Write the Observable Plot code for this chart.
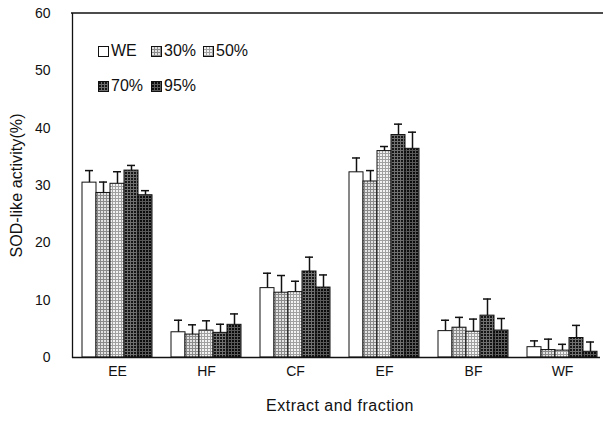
<!DOCTYPE html>
<html>
<head>
<meta charset="utf-8">
<script src="https://cdn.jsdelivr.net/npm/d3@7"></script>
<script src="https://cdn.jsdelivr.net/npm/@observablehq/plot@0.6"></script>
<style>
  html, body { margin: 0; padding: 0; background: white; }
  #wrap { position: relative; width: 603px; height: 423px; font-family: "Liberation Sans", Arial, sans-serif; }
  #wrap svg { display: block; }
  .leg { position: absolute; display: flex; align-items: center; font-size: 16px; line-height: 16px; color: #111; }
  .leg svg { margin-right: 2px; }
</style>
</head>
<body>
<div id="wrap"></div>
<script>
// ---- data ----
const fractions = ["EE", "HF", "CF", "EF", "BF", "WF"];
const series = ["WE", "30%", "50%", "70%", "95%"];
const yTicks = [0, 10, 20, 30, 40, 50, 60];

const valWE  = [30.5, 4.4, 12.1, 32.3, 4.6, 1.8];
const val30  = [28.7, 4.0, 11.3, 30.7, 5.2, 1.3];
const val50  = [30.3, 4.7, 11.4, 36.0, 4.5, 1.2];
const val70  = [32.6, 4.3, 15.0, 38.8, 7.3, 3.4];
const val95  = [28.3, 5.7, 12.2, 36.4, 4.7, 1.0];

const errWE  = [2.1, 2.1, 2.6, 2.5, 1.9, 1.1];
const err30  = [1.9, 1.7, 3.0, 1.9, 1.8, 1.9];
const err50  = [2.1, 1.7, 1.9, 0.8, 2.2, 1.1];
const err70  = [0.9, 1.5, 2.5, 1.9, 2.9, 2.2];
const err95  = [0.8, 1.9, 2.2, 2.9, 2.1, 1.7];

const values = [valWE, val30, val50, val70, val95];
const errors = [errWE, err30, err50, err70, err95];

const data = fractions.flatMap((f, i) =>
  series.map((s, j) => ({ fraction: f, series: s, value: values[j][i], err: errors[j][i] }))
);

const yLabel = "SOD-like activity(%)";
const xLabel = "Extract and fraction";

// ---- pattern fills (halftone look) ----
const patternIds = ["pWE", "p30", "p50", "p70", "p95"];
const patternUrls = patternIds.map(id => `url(#${id})`);

const chart = Plot.plot({
  width: 603,
  height: 423,
  marginLeft: 72,
  marginRight: 3,
  marginTop: 13,
  marginBottom: 66,
  style: { fontFamily: "'Liberation Sans', Arial, sans-serif", fontSize: "14px", background: "white", color: "#111" },
  fx: { domain: fractions, paddingInner: 0.215, paddingOuter: 0.067, align: 0.75 },
  x: { domain: series, padding: 0, axis: null },
  y: { domain: [0, 60] },
  color: { domain: series, range: patternUrls },
  marks: [
    Plot.axisY({ ticks: yTicks, tickSize: 0, tickPadding: 32, label: yLabel, labelAnchor: "center", labelArrow: "none", labelOffset: 72 }),
    Plot.axisFx({ anchor: "bottom", tickSize: 0, tickPadding: 9, label: xLabel, labelAnchor: "center", labelArrow: "none", labelOffset: 53 }),
    Plot.barY(data, { fx: "fraction", x: "series", y: "value", fill: "series", stroke: "#111", strokeWidth: 1 }),
    Plot.ruleX(data, { fx: "fraction", x: "series", y1: "value", y2: d => d.value + d.err, stroke: "#111", strokeWidth: 1.5 }),
    Plot.tickY(data, { fx: "fraction", x: "series", y: d => d.value + d.err, insetLeft: 3, insetRight: 3, stroke: "#111", strokeWidth: 1.5 })
  ]
});

// defs for patterns
const svg = d3.select(chart);
const defs = svg.insert("defs", ":first-child");
function gridPattern(id, bg, line, size) {
  const p = defs.append("pattern").attr("id", id).attr("patternUnits", "userSpaceOnUse")
    .attr("width", size).attr("height", size);
  p.append("rect").attr("width", size).attr("height", size).attr("fill", bg);
  if (line) {
    p.append("rect").attr("width", size).attr("height", 1).attr("fill", line);
    p.append("rect").attr("width", 1).attr("height", size).attr("fill", line);
  }
}
gridPattern("pWE", "#ffffff", null, 3);
gridPattern("p30", "#e2e2e2", "#8a8a8a", 3);
gridPattern("p50", "#f2f2f2", "#a0a0a0", 3);
gridPattern("p70", "#161616", "#707070", 3);
gridPattern("p95", "#0c0c0c", "#5a5a5a", 3);

// axis titles: larger type, slight tracking
svg.selectAll("text").filter(function () { return this.textContent === yLabel || this.textContent === xLabel; })
  .attr("font-size", 16)
  .style("letter-spacing", function () { return this.textContent === xLabel ? "0.5px" : "0.1px"; });

// frame lines (left axis, top border, baseline) placed with the y scale
const y = chart.scale("y");
const y0 = y.apply(0), y60 = y.apply(60);
svg.append("line").attr("x1", 72.5).attr("x2", 72.5).attr("y1", y60).attr("y2", y0 + 1).attr("stroke", "#111").attr("stroke-width", 1.3);
svg.append("line").attr("x1", 71).attr("x2", 603).attr("y1", y60).attr("y2", y60).attr("stroke", "#111").attr("stroke-width", 1.3);
svg.append("line").attr("x1", 72).attr("x2", 600).attr("y1", y0 + 0.5).attr("y2", y0 + 0.5).attr("stroke", "#111").attr("stroke-width", 1.3);

const wrap = document.getElementById("wrap");
wrap.appendChild(chart);

// legend inside the plot area
const legendLayout = [
  { left: 98, top: 43 }, { left: 151, top: 43 }, { left: 203, top: 43 },
  { left: 98, top: 78 }, { left: 151, top: 78 }
];
series.forEach((s, j) => {
  const item = document.createElement("div");
  item.className = "leg";
  item.style.left = legendLayout[j].left + "px";
  item.style.top = legendLayout[j].top + "px";
  item.innerHTML = `<svg width="11" height="11"><rect x="0.5" y="0.5" width="10" height="10" fill="${patternUrls[j]}" stroke="#111" stroke-width="1"/></svg><span>${s}</span>`;
  wrap.appendChild(item);
});
</script>
</body>
</html>
